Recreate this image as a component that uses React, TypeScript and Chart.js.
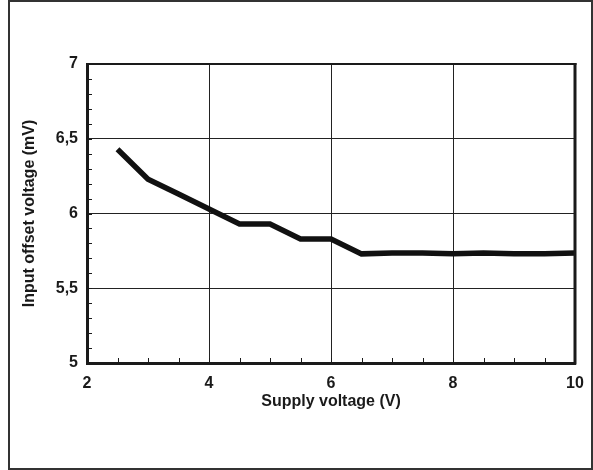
import React, { useEffect, useRef } from "react";
import { Chart, registerables } from "chart.js";

Chart.register(...registerables);

const supplyVoltage = [2.5, 3, 3.5, 4, 4.5, 5, 5.5, 6, 6.5, 7, 7.5, 8, 8.5, 9, 9.5, 10];
const offsetVoltage = [6.43, 6.23, 6.13, 6.03, 5.93, 5.93, 5.83, 5.83, 5.73, 5.735, 5.735, 5.73, 5.735, 5.73, 5.73, 5.735];
const xTicks = [2, 4, 6, 8, 10];
const yTicks = [5, 5.5, 6, 6.5, 7];
const xMinorStep = 0.5;
const yMinorStep = 0.1;
const xTitle = "Supply voltage (V)";
const yTitle = "Input offset voltage (mV)";

const W = 593;
const H = 470;

const framePlugin = {
  id: "frameAndMinor",
  afterDraw(chart: any) {
    const { ctx, chartArea } = chart;
    const xs = chart.scales.x;
    const ys = chart.scales.y;
    ctx.save();
    ctx.strokeStyle = "#1a1a1a";
    ctx.lineWidth = 1;
    for (let v = ys.min; v <= ys.max + 1e-9; v += yMinorStep) {
      const y = Math.round(ys.getPixelForValue(v)) + 0.5;
      ctx.beginPath();
      ctx.moveTo(chartArea.left, y);
      ctx.lineTo(chartArea.left + 5, y);
      ctx.stroke();
    }
    for (let v = xs.min; v <= xs.max + 1e-9; v += xMinorStep) {
      const x = Math.round(xs.getPixelForValue(v)) + 0.5;
      ctx.beginPath();
      ctx.moveTo(x, chartArea.bottom);
      ctx.lineTo(x, chartArea.bottom - 5);
      ctx.stroke();
    }
    ctx.lineWidth = 2;
    ctx.beginPath();
    ctx.moveTo(chartArea.left, chartArea.top);
    ctx.lineTo(chartArea.right + 1.5, chartArea.top);
    ctx.stroke();
    ctx.lineWidth = 3;
    ctx.beginPath();
    ctx.moveTo(chartArea.right, chartArea.top - 1);
    ctx.lineTo(chartArea.right, chartArea.bottom + 1.5);
    ctx.stroke();
    ctx.restore();
  },
};

export default function App() {
  const ref = useRef<HTMLCanvasElement | null>(null);
  useEffect(() => {
    if (!ref.current) return;
    const chart = new Chart(ref.current, {
      type: "line",
      data: {
        datasets: [
          {
            data: supplyVoltage.map((x, i) => ({ x, y: offsetVoltage[i] })),
            borderColor: "#111111",
            borderWidth: 5.5,
            pointRadius: 0,
            tension: 0,
            borderCapStyle: "butt",
            borderJoinStyle: "miter",
          },
        ],
      },
      options: {
        responsive: false,
        animation: false,
        devicePixelRatio: 1,
        layout: { padding: { left: 0, top: 64, right: 18, bottom: 0 } },
        plugins: { legend: { display: false }, tooltip: { enabled: false } },
        scales: {
          x: {
            type: "linear",
            min: 2,
            max: 10,
            afterBuildTicks: (s: any) => {
              s.ticks = xTicks.map((v) => ({ value: v }));
            },
            afterFit: (s: any) => {
              s.height = H - 363;
              s.paddingLeft = 0;
              s.paddingRight = 0;
            },
            grid: { color: "#222222", lineWidth: 1, drawTicks: false },
            border: { color: "#1a1a1a", width: 3 },
            ticks: {
              color: "#1a1a1a",
              padding: 11,
              maxRotation: 0,
              font: { family: "Liberation Sans", weight: "bold", size: 16 },
              callback: (v: any) => String(v),
            },
            title: {
              display: true,
              text: xTitle,
              color: "#1a1a1a",
              font: { family: "Liberation Sans", weight: "bold", size: 16 },
              padding: { top: 0, bottom: 59 },
            },
          },
          y: {
            type: "linear",
            min: 5,
            max: 7,
            afterBuildTicks: (s: any) => {
              s.ticks = yTicks.map((v) => ({ value: v }));
            },
            afterFit: (s: any) => {
              s.width = 87;
              s.paddingTop = 0;
              s.paddingBottom = 0;
            },
            grid: { color: "#222222", lineWidth: 1, drawTicks: false },
            border: { color: "#1a1a1a", width: 3 },
            ticks: {
              color: "#1a1a1a",
              padding: 9,
              font: { family: "Liberation Sans", weight: "bold", size: 16 },
              callback: (v: any) => String(v).replace(".", ","),
            },
            title: {
              display: true,
              text: yTitle,
              color: "#1a1a1a",
              font: { family: "Liberation Sans", weight: "bold", size: 16 },
              padding: { top: 20, bottom: 0 },
            },
          },
        },
      } as any,
      plugins: [framePlugin],
    });
    return () => chart.destroy();
  }, []);

  return (
    <div style={{ position: "fixed", left: 0, top: 0, width: W, height: H, background: "#fff" }}>
      <canvas ref={ref} width={W} height={H} style={{ position: "absolute", left: 0, top: 0, width: W, height: H }} />
      <div
        style={{
          position: "absolute",
          left: 8,
          top: 0,
          width: W - 8,
          height: H,
          boxSizing: "border-box",
          border: "2px solid #333",
          pointerEvents: "none",
        }}
      />
    </div>
  );
}
